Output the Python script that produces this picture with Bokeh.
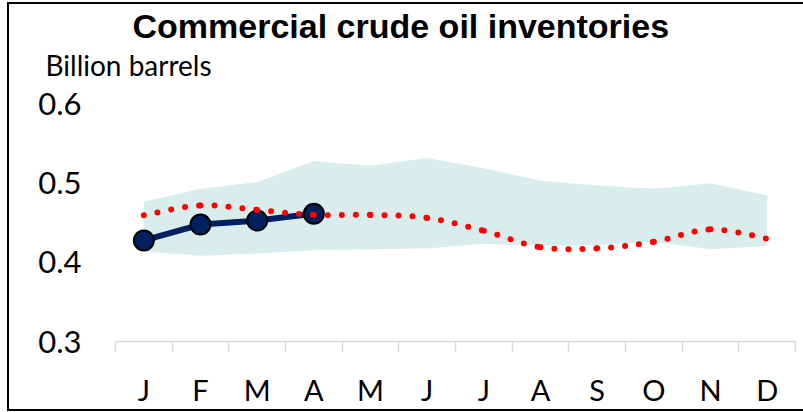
from bokeh.plotting import figure
from bokeh.layouts import column
from bokeh.models import Range1d, FixedTicker, Title
from bokeh.embed import file_html
from bokeh.resources import INLINE

# ---- data (billion barrels) ----
months = ["J", "F", "M", "A", "M", "J", "J", "A", "S", "O", "N", "D"]
range_low = [0.4136, 0.4083, 0.4112, 0.4152, 0.4165, 0.4174, 0.4236, 0.4210, 0.4220, 0.4260, 0.4165, 0.4207]
range_high = [0.4765, 0.4930, 0.5013, 0.5280, 0.5220, 0.5320, 0.5190, 0.5030, 0.4970, 0.4930, 0.5000, 0.4847]
five_year_avg = [0.4595, 0.4720, 0.4663, 0.4600, 0.4600, 0.4562, 0.4400, 0.4190, 0.4177, 0.4260, 0.4417, 0.4300]
inventory_current = [0.4277, 0.4478, 0.4528, 0.4615]
y_ticks = [0.3, 0.4, 0.5, 0.6]
y_min, y_max = 0.3, 0.6273   # frame reaches a little above the 0.6 tick

TITLE = "Commercial crude oil inventories"
UNITS = "Billion barrels"

x = [i + 0.5 for i in range(len(months))]
x_cur = x[:len(inventory_current)]

p = figure(width=794, height=405, output_backend="svg", toolbar_location=None,
           title=None,
           x_range=Range1d(0, len(months)), y_range=Range1d(y_min, y_max),
           min_border_left=106, min_border_right=8, min_border_top=78,
           min_border_bottom=63)
p.outline_line_color = None
p.xgrid.grid_line_color = None
p.ygrid.grid_line_color = None
p.background_fill_color = "white"
p.border_fill_color = "white"

# x axis: month labels at centres, ticks between categories
xa = p.xaxis[0]
xa.ticker = FixedTicker(ticks=x, minor_ticks=list(range(len(months) + 1)))
xa.major_label_overrides = {xi: m for xi, m in zip(x, months)}
xa.major_tick_line_color = None
xa.major_tick_out = 0
xa.major_tick_in = 0
xa.minor_tick_out = 10
xa.minor_tick_in = 0
xa.minor_tick_line_color = "#d9d9d9"
xa.minor_tick_line_width = 1.5
xa.axis_line_color = "#d9d9d9"
xa.axis_line_width = 1.5
xa.major_label_standoff = 20
xa.major_label_text_font = "Lato"
xa.major_label_text_font_size = "29px"
xa.major_label_text_color = "black"

ya = p.yaxis[0]
ya.ticker = FixedTicker(ticks=y_ticks)
ya.major_label_overrides = {t: f"{t:.1f}" for t in y_ticks}
ya.axis_line_color = None
ya.major_tick_line_color = None
ya.minor_tick_line_color = None
ya.major_tick_out = 0
ya.major_label_standoff = 34
ya.major_label_text_font = "Lato"
ya.major_label_text_font_size = "31px"
ya.major_label_text_color = "black"

# band (range)
p.varea(x=x, y1=range_low, y2=range_high, fill_color="#daeded")

# current year
p.line(x_cur, inventory_current, line_color="#002060", line_width=6)
p.scatter(x_cur, inventory_current, size=20, fill_color="#002060",
          line_color="black", line_width=2)

# smoothed dotted average (Catmull-Rom style bezier segments)
n = len(x)
x0s, y0s, x1s, y1s, cx0, cy0, cx1, cy1 = [], [], [], [], [], [], [], []
for i in range(n - 1):
    im1 = max(i - 1, 0)
    ip2 = min(i + 2, n - 1)
    x0s.append(x[i]); y0s.append(five_year_avg[i])
    x1s.append(x[i + 1]); y1s.append(five_year_avg[i + 1])
    cx0.append(x[i] + (x[i + 1] - x[im1]) / 6)
    cy0.append(five_year_avg[i] + (five_year_avg[i + 1] - five_year_avg[im1]) / 6)
    cx1.append(x[i + 1] - (x[ip2] - x[i]) / 6)
    cy1.append(five_year_avg[i + 1] - (five_year_avg[ip2] - five_year_avg[i]) / 6)
p.bezier(x0=x0s, y0=y0s, x1=x1s, y1=y1s, cx0=cx0, cy0=cy0, cx1=cx1, cy1=cy1,
         line_color="#ff0000", line_width=6, line_dash="0 14", line_cap="round")

# texts
p.add_layout(Title(text=UNITS, align="left", offset=-70, text_font="Lato",
                   text_font_size="28px", text_font_style="normal",
                   text_line_height=1.0,
                   text_color="black", standoff=2), "above")
p.add_layout(Title(text=TITLE, align="left", offset=17, text_font="Liberation Sans",
                   text_font_size="34px", text_font_style="bold",
                   text_line_height=1.0,
                   text_color="black", standoff=0), "above")

layout = column(p, styles={"margin-left": "7px", "margin-top": "2px",
                           "border-left": "2px solid black",
                           "border-top": "2px solid black",
                           "border-bottom": "2px solid black"})

open("out.html", "w").write(file_html(layout, INLINE))
